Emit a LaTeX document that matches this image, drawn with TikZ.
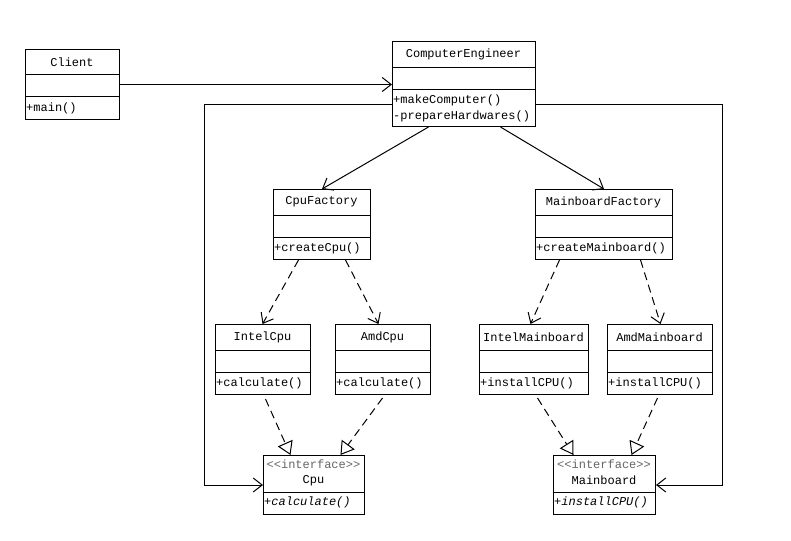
\documentclass[tikz,border=0pt]{standalone}
\usepackage{fontspec}
\setmainfont{Liberation Mono}
\usetikzlibrary{arrows.meta,calc}
\tikzset{
  box/.style={draw, line width=1pt, inner sep=0pt, fill=white},
  ttl/.style={inner sep=0pt, font=\fontsize{12}{14}\selectfont},
  mth/.style={inner sep=0pt, anchor=west, font=\fontsize{12}{14}\selectfont},
  divl/.style={line width=1pt},
  assoc/.style={line width=1pt, -{Straight Barb[length=9pt,width=14pt,line width=1pt]}},
  dep/.style={line width=1pt, dash pattern=on 8pt off 5pt, -{Straight Barb[length=9pt,width=14pt,line width=1pt]}},
  real/.style={line width=1pt, dash pattern=on 8pt off 5pt, -{Triangle[open,length=13pt,width=16pt,line width=1pt,fill=white]}},
}
\newcommand{\klass}[9]{%
  \node[box, anchor=north west, minimum width={#4pt-#2pt}, minimum height={#5pt-#3pt}] (#1) at (#2,#3) {};
  \draw[divl] (#2,#6) -- (#4,#6);
  \draw[divl] (#2,#7) -- (#4,#7);
  \node[ttl] (#1-t) at ({(#2+#4)/2},{(#3+#6)/2}) {#8};
  \node[mth] (#1-m) at ({#2+1},{(#7+#5)/2}) {#9};
}
\begin{document}
\begin{tikzpicture}[x=1pt,y=-1pt]
\useasboundingbox (0,0) rectangle (791,540);
\fill[white] (0,0) rectangle (791,540);

\klass{client}{25}{49}{119}{119}{75}{97}{Client}{+main()}
% ComputerEngineer (two methods)
\node[box, anchor=north west, minimum width=143pt, minimum height=85pt] (ce) at (392,41) {};
\draw[divl] (392,68) -- (535,68);
\draw[divl] (392,90) -- (535,90);
\node[ttl] (ce-t) at (463.5,54.5) {ComputerEngineer};
\node[mth] (ce-m1) at (393,100) {+makeComputer()};
\node[mth] (ce-m2) at (393,116.5) {-prepareHardwares()};

\klass{cpuf}{273}{189}{370}{259}{215}{237}{CpuFactory}{+createCpu()}
\klass{mbf}{535}{189}{672}{259}{215}{237}{MainboardFactory}{+createMainboard()}
\klass{icpu}{215}{324}{310}{394}{350}{372}{IntelCpu}{+calculate()}
\klass{acpu}{335}{324}{430}{394}{350}{372}{AmdCpu}{+calculate()}
\klass{imb}{479}{324}{588}{394}{350}{372}{IntelMainboard}{+installCPU()}
\klass{amb}{607}{324}{712}{394}{350}{372}{AmdMainboard}{+installCPU()}

% interfaces
\node[box, anchor=north west, minimum width=101pt, minimum height=59pt] (cpu) at (263,455) {};
\draw[divl] (263,492) -- (364,492);
\node[ttl, text=black!60] (cpu-s) at (313.5,464.5) {{<}{<}interface{>}{>}};
\node[ttl] (cpu-t) at (313.5,480.5) {Cpu};
\node[mth, font=\fontsize{12}{14}\selectfont\itshape] (cpu-m) at (264,502.5) {+calculate()};

\node[box, anchor=north west, minimum width=102pt, minimum height=59pt] (mb) at (553,455) {};
\draw[divl] (553,492) -- (655,492);
\node[ttl, text=black!60] (mb-s) at (604,464.5) {{<}{<}interface{>}{>}};
\node[ttl] (mb-t) at (604,480.5) {Mainboard};
\node[mth, font=\fontsize{12}{14}\selectfont\itshape] (mb-m) at (554,502.5) {+installCPU()};

% connectors
\draw[assoc] (client.east) -- (client.east -| ce.west);
\draw[assoc] ([xshift=-35.5pt]ce.south) -- (cpuf.north);
\draw[assoc] ([xshift=36.5pt]ce.south) -- (mbf.north);
\draw[assoc] ([yshift=-20.5pt]ce.west) -- ++(-188pt,0pt) |- (cpu.west);
\draw[assoc] ([yshift=-20.5pt]ce.east) -- ++(186pt,0pt) |- (mb.east);

\draw[dep] ([xshift=-23.5pt]cpuf.south) -- ([xshift=-0.5pt]icpu.north);
\draw[dep] ([xshift=23.5pt]cpuf.south) -- ([xshift=-4.5pt]acpu.north);
\draw[dep] ([xshift=-44.5pt]mbf.south) -- ([xshift=-3.5pt]imb.north);
\draw[dep] ([xshift=36.5pt]mbf.south) -- ([xshift=0.5pt]amb.north);

\draw[real] ([xshift=2.5pt,yshift=-4pt]icpu.south) -- ([xshift=-23.5pt]cpu.north);
\draw[real] ([xshift=-0.5pt,yshift=-3pt]acpu.south) -- ([xshift=26.5pt]cpu.north);
\draw[real] ([xshift=3.5pt,yshift=-3pt]imb.south) -- ([xshift=-31pt]mb.north);
\draw[real] ([xshift=-2.5pt,yshift=-3pt]amb.south) -- ([xshift=27pt]mb.north);
\end{tikzpicture}
\end{document}
